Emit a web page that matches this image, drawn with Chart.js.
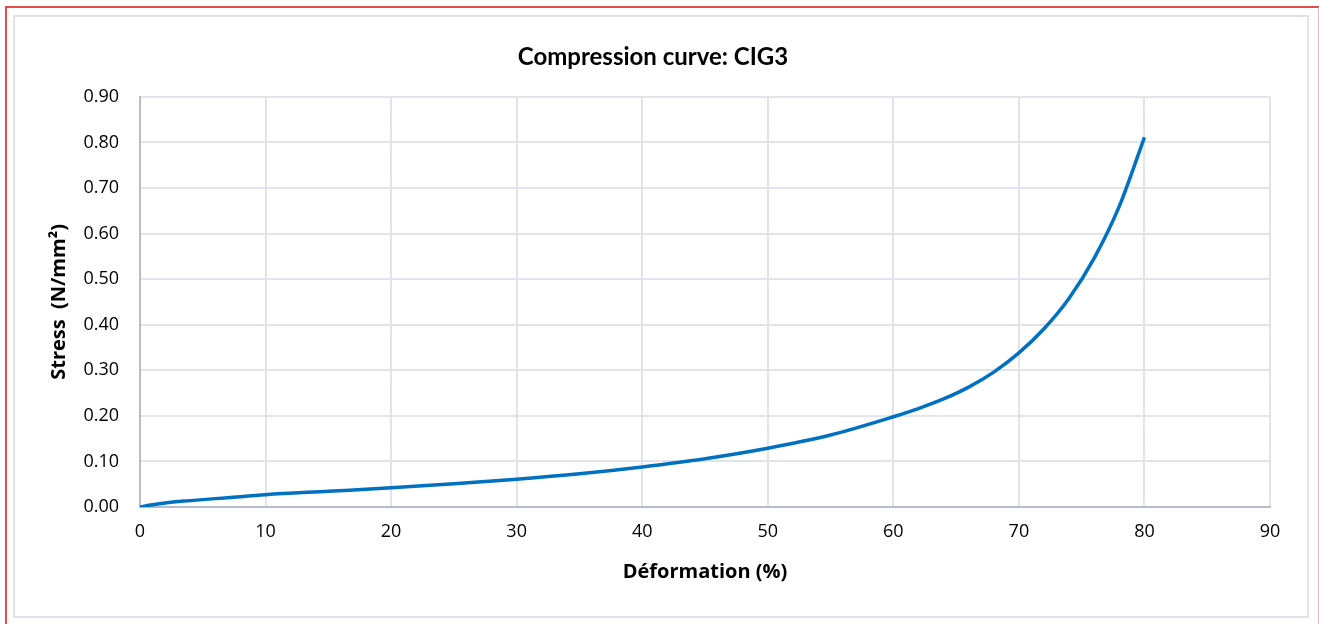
<!DOCTYPE html>
<html lang="en">
<head>
    <meta charset="UTF-8">
    <title>Compression curve: CIG3</title>
    <script src="https://cdn.jsdelivr.net/npm/chart.js"></script>
    <style>
        html, body {
            margin: 0;
            padding: 0;
            background: #ffffff;
            overflow: hidden;
        }
        /* Outer red frame */
        .outer-frame {
            position: absolute;
            left: 5px;
            top: 6px;
            width: 1311px;
            height: 640px;
            border-top: 2px solid #e54b4b;
            border-left: 2px solid #e54b4b;
            border-right: 2px solid #f5b5b5;
        }
        /* Inner gray frame */
        .inner-frame {
            position: absolute;
            left: 13px;
            top: 15px;
            width: 1292px;
            height: 599px;
            border: 2px solid #dfe3e9;
        }
        #chart {
            position: absolute;
            left: 0;
            top: 0;
        }
    </style>
</head>
<body>
    <div class="outer-frame"></div>
    <div class="inner-frame"></div>
    <canvas id="chart" width="1319" height="624"></canvas>

    <script>
        // Deformation (%) and measured stress (N/mm²)
        const deformation = [0, 1, 2, 4, 7, 10, 15, 20, 25, 30, 35, 40, 45, 50, 55, 60, 62, 64, 66, 68, 70, 72, 74, 76, 78, 80];
        const stress = [0.000, 0.005, 0.009, 0.014, 0.0205, 0.027, 0.0345, 0.042, 0.051, 0.061, 0.073, 0.088, 0.106, 0.129, 0.158, 0.198, 0.216, 0.237, 0.263, 0.296, 0.338, 0.391, 0.458, 0.546, 0.660, 0.811];

        const titleText = 'Compression curve: CIG3';
        const xTitle = 'Déformation (%)';
        const yTitle = 'Stress  (N/mm²)';

        const points = deformation.map((x, i) => ({ x: x, y: stress[i] }));

        const gridColor = '#e1e5eb';
        const axisColor = '#b3bdcb';
        const tickFont = { family: '"Open Sans", "Noto Sans", sans-serif', size: 18 };
        const boldFont = { family: '"Open Sans", "Noto Sans", sans-serif', size: 20, weight: 'bold' };

        new Chart(document.getElementById('chart').getContext('2d'), {
            type: 'scatter',
            data: {
                datasets: [{
                    label: 'CIG3',
                    data: points,
                    showLine: true,
                    borderColor: '#0070c0',
                    borderWidth: 3.5,
                    pointRadius: 0,
                    cubicInterpolationMode: 'monotone',
                    fill: false
                }]
            },
            options: {
                responsive: false,
                animation: false,
                layout: {
                    padding: { left: 36, right: 49, top: 43, bottom: 18 }
                },
                plugins: {
                    legend: { display: false },
                    tooltip: { enabled: false },
                    title: {
                        display: true,
                        text: titleText,
                        color: '#000000',
                        font: { family: 'Lato, "Noto Sans", sans-serif', size: 24, weight: 'bold', lineHeight: 1.2 },
                        padding: { top: 0, bottom: 25 }
                    }
                },
                scales: {
                    x: {
                        type: 'linear',
                        min: 0,
                        max: 90,
                        ticks: {
                            stepSize: 10,
                            padding: 14,
                            color: '#000000',
                            font: tickFont
                        },
                        grid: {
                            color: gridColor,
                            lineWidth: 2,
                            drawTicks: false
                        },
                        border: { color: axisColor, width: 2 },
                        title: {
                            display: true,
                            text: xTitle,
                            color: '#000000',
                            font: boldFont,
                            padding: { top: 0, bottom: 22 }
                        },
                        afterFit: (scale) => { scale.height = 99; }
                    },
                    y: {
                        min: 0,
                        max: 0.9,
                        ticks: {
                            stepSize: 0.1,
                            padding: 21,
                            color: '#000000',
                            font: tickFont,
                            callback: (v) => v.toFixed(2)
                        },
                        grid: {
                            color: gridColor,
                            lineWidth: 2,
                            drawTicks: false
                        },
                        border: { color: axisColor, width: 2 },
                        title: {
                            display: true,
                            text: yTitle,
                            color: '#000000',
                            font: boldFont,
                            padding: { top: 11, bottom: 0 }
                        },
                        afterFit: (scale) => { scale.width = 104; }
                    }
                }
            }
        });
    </script>
</body>
</html>
